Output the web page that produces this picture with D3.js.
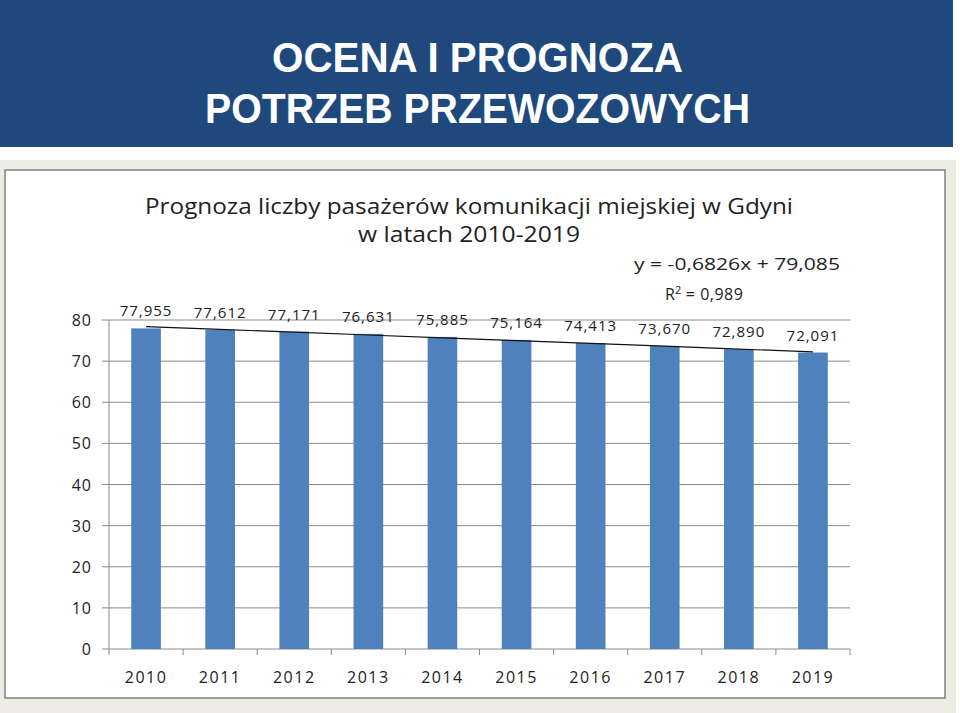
<!DOCTYPE html>
<html><head><meta charset="utf-8">
<script src="https://cdn.jsdelivr.net/npm/d3@7"></script>
<style>body{margin:0;background:#fff;}svg{display:block;}</style>
</head><body>
<svg id="c" width="960" height="713"></svg>
<script>
const years = ["2010","2011","2012","2013","2014","2015","2016","2017","2018","2019"];
const passengers = [77.955,77.612,77.171,76.631,75.885,75.164,74.413,73.670,72.890,72.091];
const valueLabels = ["77,955","77,612","77,171","76,631","75,885","75,164","74,413","73,670","72,890","72,091"];
const yTicks = [0,10,20,30,40,50,60,70,80];
const trendSlope = -0.6826, trendIntercept = 79.085;
const headerLines = ["OCENA I PROGNOZA","POTRZEB PRZEWOZOWYCH"];
const titleLines = ["Prognoza liczby pasażerów komunikacji miejskiej w Gdyni","w latach 2010-2019"];
const equationText = "y = -0,6826x + 79,085";

const svg = d3.select("#c");
const F = "'Open Sans', sans-serif";
const HF = "'Liberation Sans Narrow','Liberation Sans',sans-serif";

// backgrounds
svg.append("rect").attr("x",0).attr("y",0).attr("width",953).attr("height",147).attr("fill","#1F497D");
svg.append("rect").attr("x",0).attr("y",160).attr("width",956).attr("height",553).attr("fill","#EDECE4");
svg.append("rect").attr("x",5).attr("y",170).attr("width",940).attr("height",528)
  .attr("fill","#fff").attr("stroke","#808080").attr("stroke-width",1.5);

// header
const ht = svg.append("text").attr("font-family",HF).attr("font-weight",700)
  .attr("font-size",43).attr("fill","#fff");
ht.append("tspan").attr("x",272).attr("y",72).attr("textLength",411).attr("lengthAdjust","spacingAndGlyphs").text(headerLines[0]);
ht.append("tspan").attr("x",205).attr("y",123).attr("textLength",545).attr("lengthAdjust","spacingAndGlyphs").text(headerLines[1]);

// chart title
const tt = svg.append("text").attr("font-family",F).attr("font-size",21).attr("fill","#222");
tt.append("tspan").attr("x",145).attr("y",214).attr("textLength",648).attr("lengthAdjust","spacingAndGlyphs").text(titleLines[0]);
tt.append("tspan").attr("x",358).attr("y",242).attr("textLength",222).attr("lengthAdjust","spacingAndGlyphs").text(titleLines[1]);

// equation
svg.append("text").attr("x",634).attr("y",270).attr("font-family",F).attr("font-size",17).attr("fill","#222")
  .attr("textLength",206).attr("lengthAdjust","spacingAndGlyphs").text(equationText);
const r2 = svg.append("text").attr("x",665).attr("y",300).attr("font-family",F).attr("font-size",16).attr("fill","#222");
r2.append("tspan").text("R");
r2.append("tspan").attr("font-size",11).attr("dy",-6).text("2");
r2.append("tspan").attr("dy",6).attr("letter-spacing",0.5).text(" = 0,989");

// scales
const x = d3.scaleBand().domain(years).range([109,850]).paddingInner(0.6).paddingOuter(0.3);
const xs = d3.scaleBand().domain(years).range([109,850]);
const y = d3.scaleLinear().domain([0,80]).range([649,320]);

// gridlines
const g = svg.append("g");
g.selectAll("line.grid").data(yTicks).join("line")
  .attr("x1",102).attr("x2",850).attr("y1",d=>y(d)).attr("y2",d=>y(d))
  .attr("stroke","#8a8a8a").attr("stroke-width",1);
g.append("line").attr("x1",109).attr("x2",109).attr("y1",y(80)).attr("y2",y(0)).attr("stroke","#8a8a8a");
// x ticks
const xt = years.map((d,i)=>xs(d)).concat([850]);
g.selectAll("line.xt").data(xt).join("line")
  .attr("x1",d=>d).attr("x2",d=>d).attr("y1",y(0)).attr("y2",y(0)+6).attr("stroke","#8a8a8a");

// y labels
g.selectAll("text.yl").data(yTicks).join("text")
  .attr("x",92).attr("y",d=>y(d)+6).attr("text-anchor","end").attr("font-family",F)
  .attr("font-size",16).attr("letter-spacing",1).attr("fill","#222").text(d=>d);

// bars
svg.append("g").selectAll("rect").data(passengers).join("rect")
  .attr("x",(d,i)=>x(years[i])).attr("width",x.bandwidth())
  .attr("y",d=>y(d)).attr("height",d=>y(0)-y(d)).attr("fill","#4F81BD");

// trend line
const line = d3.line().x((d,i)=>xs(years[i])+xs.bandwidth()/2).y((d,i)=>y(trendSlope*(i+1)+trendIntercept));
svg.append("path").datum(years).attr("d",line).attr("fill","none").attr("stroke","#111").attr("stroke-width",1.2);

// value labels
svg.append("g").selectAll("text").data(passengers).join("text")
  .attr("x",(d,i)=>xs(years[i])+xs.bandwidth()/2).attr("y",d=>y(d)-12)
  .attr("text-anchor","middle").attr("font-family",F).attr("font-size",15).attr("letter-spacing",1)
  .attr("fill","#222").text((d,i)=>valueLabels[i]);

// x labels
svg.append("g").selectAll("text").data(years).join("text")
  .attr("x",d=>xs(d)+xs.bandwidth()/2).attr("y",683).attr("text-anchor","middle")
  .attr("font-family",F).attr("font-size",16).attr("letter-spacing",1.5).attr("fill","#222").text(d=>d);
</script>
</body></html>
